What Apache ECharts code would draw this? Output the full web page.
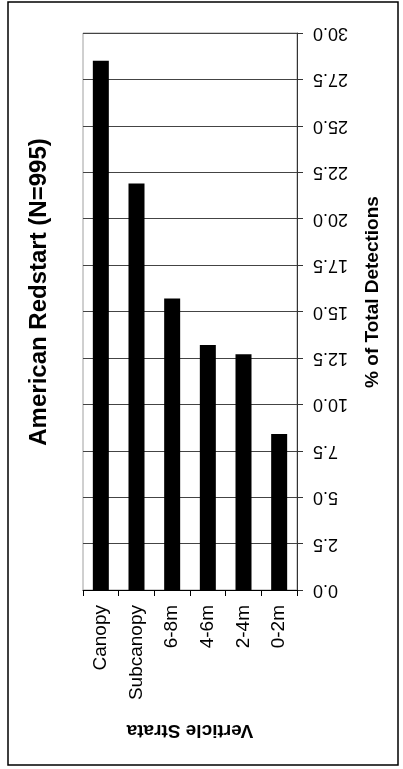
<!DOCTYPE html>
<html>
<head>
<meta charset="utf-8">
<script src="https://cdn.jsdelivr.net/npm/echarts@6/dist/echarts.min.js"></script>
<style>
html,body{margin:0;padding:0;background:#fff;}
#chart{width:403px;height:769px;}
</style>
</head>
<body>
<div id="chart"></div>
<script>
const categories = ["Canopy", "Subcanopy", "6-8m", "4-6m", "2-4m", "0-2m"];
const detections = [28.5, 21.9, 15.7, 13.2, 12.7, 8.4];
const valueTicks = { min: 0, max: 30, step: 2.5 };
const titleText = "American Redstart (N=995)";
const xTitle = "Verticle Strata";
const yTitle = "% of Total Detections";

const FONT = "'Liberation Sans', Arial, sans-serif";
const chart = echarts.init(document.getElementById('chart'), null, { renderer: 'canvas' });
chart.setOption({
  animation: false,
  backgroundColor: '#fff',
  grid: {
    left: 83, right: 106, top: 33, bottom: 179,
    show: true, borderColor: '#a0a0a0', borderWidth: 1, backgroundColor: 'transparent'
  },
  xAxis: {
    type: 'category',
    data: categories,
    position: 'bottom',
    axisLine: { show: true, lineStyle: { color: '#000', width: 1 } },
    axisTick: { show: true, length: 6, alignWithLabel: false, lineStyle: { color: '#000' } },
    axisLabel: { rotate: 90, margin: 15, color: '#000', fontSize: 19, fontFamily: FONT },
    name: xTitle,
    nameLocation: 'middle',
    nameRotate: 180,
    nameGap: 131,
    nameTextStyle: { color: '#000', fontSize: 19, fontWeight: 'bold', fontFamily: FONT }
  },
  yAxis: {
    type: 'value',
    position: 'right',
    min: valueTicks.min,
    max: valueTicks.max,
    interval: valueTicks.step,
    axisLine: { show: true, lineStyle: { color: '#333', width: 1 } },
    axisTick: { show: true, length: 6, lineStyle: { color: '#333' } },
    splitLine: { show: true, lineStyle: { color: '#444', width: 1 } },
    axisLabel: {
      rotate: 180, margin: 16, color: '#000', fontSize: 18, fontFamily: FONT,
      formatter: v => v.toFixed(1)
    }
  },
  series: [{
    type: 'bar',
    data: detections,
    barWidth: 16,
    itemStyle: { color: '#000' }
  }],
  graphic: [
    {
      type: 'rect', silent: true, z: -1,
      shape: { x: 8, y: 2, width: 390, height: 763 },
      style: { fill: 'none', stroke: '#000', lineWidth: 1.5 }
    },
    {
      type: 'text', x: 39, y: 292, rotation: Math.PI / 2,
      style: { text: titleText, font: "bold 24px " + FONT, fill: '#000', textAlign: 'center', textVerticalAlign: 'middle' }
    },
    {
      type: 'text', x: 373, y: 292, rotation: Math.PI / 2,
      style: { text: yTitle, font: "bold 19px " + FONT, fill: '#000', textAlign: 'center', textVerticalAlign: 'middle' }
    }
  ]
});
</script>
</body>
</html>
